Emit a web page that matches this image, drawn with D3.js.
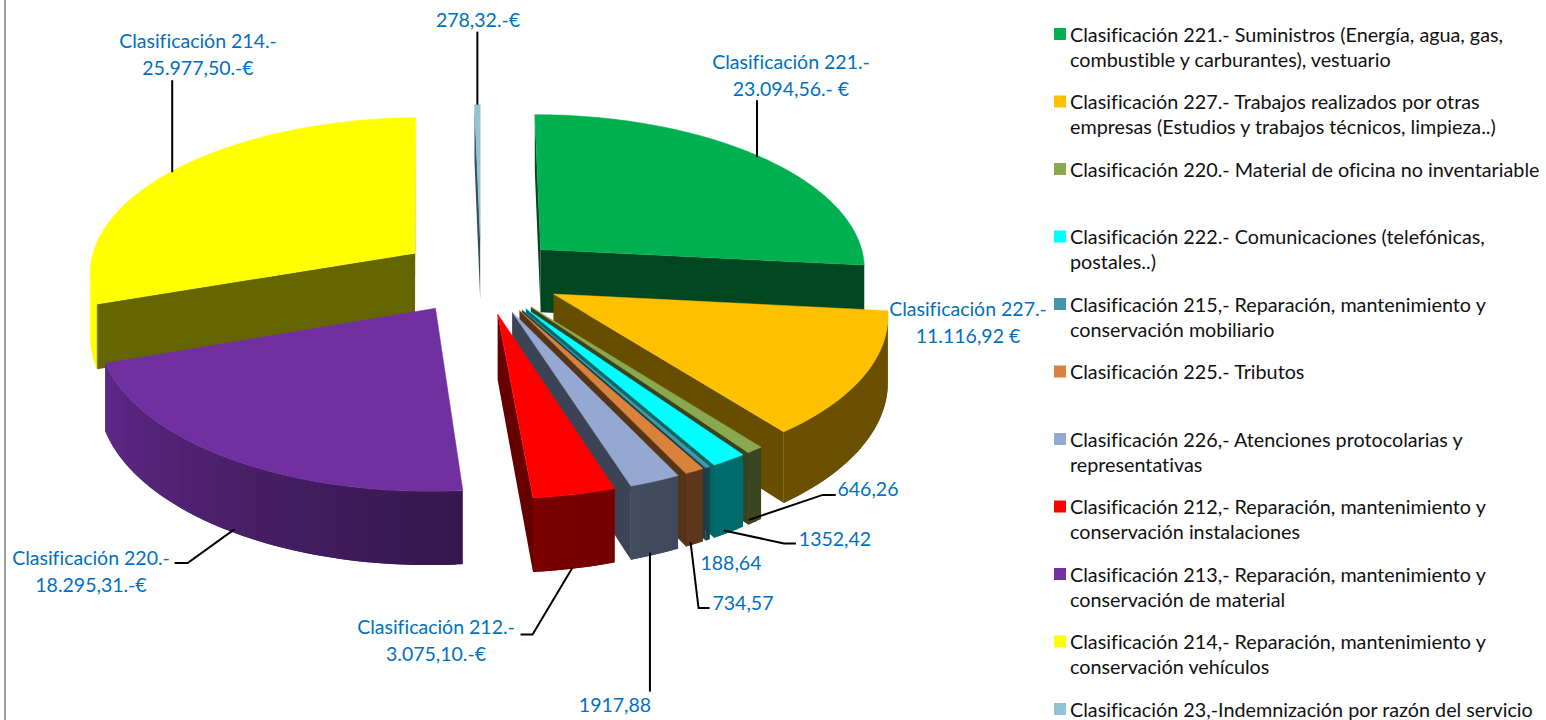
<!DOCTYPE html>
<html>
<head>
<meta charset="utf-8">
<script src="https://cdn.jsdelivr.net/npm/d3@7"></script>
<style>
  html, body { margin: 0; padding: 0; background: #fff; }
  svg { display: block; font-family: Lato, sans-serif; font-variant-ligatures: none; }
</style>
</head>
<body>
<div class="canvas"></div>
<script>
// chart data
const codes = ['221', '227', '220', '222', '215', '225', '226', '212', '213', '214', '23'];
const values = [23094.56, 11116.92, 646.26, 1352.42, 188.64, 734.57, 1917.88, 3075.10, 18295.31, 25977.50, 278.32];
const colors = ['#00b050', '#ffc000', '#8aa84f', '#00ffff', '#4398a8', '#d8823c', '#95a8d2', '#ff0000', '#7030a0', '#ffff00', '#92c4d6'];

const legendLines = [
    ['Clasificación 221.- Suministros (Energía, agua, gas,', 'combustible y carburantes), vestuario'],
    ['Clasificación 227.- Trabajos realizados por otras', 'empresas (Estudios y trabajos técnicos, limpieza..)'],
    ['Clasificación 220.- Material de oficina no inventariable'],
    ['Clasificación 222.- Comunicaciones (telefónicas,', 'postales..)'],
    ['Clasificación 215,- Reparación, mantenimiento y', 'conservación mobiliario'],
    ['Clasificación 225.- Tributos'],
    ['Clasificación 226,- Atenciones protocolarias y', 'representativas'],
    ['Clasificación 212,- Reparación, mantenimiento y', 'conservación instalaciones'],
    ['Clasificación 213,- Reparación, mantenimiento y', 'conservación de material'],
    ['Clasificación 214,- Reparación, mantenimiento y', 'conservación vehículos'],
    ['Clasificación 23,-Indemnización por razón del servicio']
];

const labelLines = [
    ['Clasificación 221.-', '23.094,56.- €'],
    ['Clasificación 227.-', '11.116,92 €'],
    ['646,26'],
    ['1352,42'],
    ['188,64'],
    ['734,57'],
    ['1917,88'],
    ['Clasificación 212.-', '3.075,10.-€'],
    ['Clasificación 220.-', '18.295,31.-€'],
    ['Clasificación 214.-', '25.977,50.-€'],
    ['278,32.-€']
];

// label layout, same order as the slices: text centre, first baseline
const labelPos = [[791, 69], [968, 316], [868, 496], [835, 546], [731, 570], [743, 610], [615, 712], [436, 634], [91, 565], [198, 48], [478, 27]];
// leader points, relative to the middle of the slice's rim
const leaderBends = [
    [[-2, 1], [-2, -56]],
    null,
    [[-6, -2], [68, -27], [81, -27]],
    [[-5, -2], [55, 11], [67, 11]],
    null,
    [[-4, -2], [4, 64], [15, 64]],
    [[-5, -2], [-5, 137]],
    [[-2, -1], [-42, 66], [-54, 66]],
    [[5, -2], [-42, 32], [-55, 32]],
    [[2, 0], [2, -92]],
    [[0, 0], [0, -73]]
];

const width = 1546;
const height = 720;
const svg = d3.select('.canvas').append('svg').attr('width', width).attr('height', height);

// left border of the original picture
svg.append('rect').attr('x', 4).attr('y', 0).attr('width', 2).attr('height', height).attr('fill', '#a0a0a0');

// 3D projection: ground plane unit circle -> screen, with a little perspective
const xScale = d3.scaleLinear().domain([-1, 1]).range([481 - 327, 481 + 327]);
const yScale = d3.scaleLinear().domain([-1, 1]).range([275 - 155, 275 + 155]);
const perspective = 0.11;
const depth = 64;      // height of the pie on screen
const explode = 0.25;  // how far the slices are pulled out

const project = (u, v, z = 0) => {
    const s = 1 / (1 - perspective * v);
    return [xScale(u * s), yScale(v * s) + z * depth * s];
};

// light on the round outer wall, by angle in degrees
const wallLight = d3.scaleLinear().domain([0, 150, 180, 251, 252, 360]).range([0.4, 0.42, 0.5, 0.85, 1, 1]);

const shade = (color, k) => {
    const c = d3.rgb(color);
    return d3.rgb(c.r * k, c.g * k, c.b * k).formatHex();
};

const pie = d3.pie().sort(null).value(d => d);
const line = d3.line();

const slices = pie(values).map((d, i) => {
    const mid = (d.startAngle + d.endAngle) / 2;
    const ou = explode * Math.sin(mid);
    const ov = -explode * Math.cos(mid);
    const n = Math.max(2, Math.ceil((d.endAngle - d.startAngle) * 180 / Math.PI));
    const angles = d3.range(n + 1).map(k => d.startAngle + (d.endAngle - d.startAngle) * k / n);
    const ground = a => [ou + Math.sin(a), ov - Math.cos(a)];
    return { i, mid, apex: [ou, ov], angles, ground, color: colors[i] };
});

// painter's order, back slices first
const chart = svg.append('g').attr('class', 'pie');
slices.slice().sort((a, b) => Math.cos(b.mid) - Math.cos(a.mid)).forEach(sl => {
    const g = chart.append('g');
    const rim = sl.angles.map(sl.ground);
    const loop = [sl.apex, ...rim];

    // walls: only those that face the viewer
    const wall = (p, q, fill, over = q) => {
        const front = [project(p[0], p[1]), project(q[0], q[1]), project(q[0], q[1], 1), project(p[0], p[1], 1)];
        if (d3.polygonArea(front) > 0) {
            // "over" runs the piece on under the next one, so no seams show
            const poly = [project(p[0], p[1]), project(over[0], over[1]), project(over[0], over[1], 1), project(p[0], p[1], 1)];
            g.append('path').attr('d', line(poly) + 'Z').attr('fill', fill);
        }
    };
    wall(sl.apex, rim[0], shade(sl.color, 0.4));
    wall(rim[rim.length - 1], sl.apex, shade(sl.color, 0.4));
    d3.pairs(rim).forEach(([p, q], k) => {
        const deg = (sl.angles[k] + sl.angles[k + 1]) / 2 * 180 / Math.PI;
        wall(p, q, shade(sl.color, wallLight(deg)), rim[k + 2] || q);
    });

    // top face
    g.append('path')
        .attr('d', line(loop.map(p => project(p[0], p[1]))) + 'Z')
        .attr('fill', sl.color)
        .attr('stroke', sl.color)
        .attr('stroke-width', 0.5);
});

// leader lines
const leaders = svg.append('g').attr('class', 'leaders');
slices.forEach(sl => {
    const bends = leaderBends[sl.i];
    if (!bends) return;
    const p = sl.ground(sl.mid);
    const start = project(p[0], p[1], Math.cos(sl.mid) < 0 ? 1 : 0);
    leaders.append('path')
        .attr('d', line(bends.map(b => [start[0] + b[0], start[1] + b[1]])))
        .attr('fill', 'none')
        .attr('stroke', '#000')
        .attr('stroke-width', 2);
});

// data labels
svg.append('g').attr('class', 'labels')
    .selectAll('text')
    .data(labelLines)
    .join('text')
    .attr('text-anchor', 'middle')
    .attr('fill', '#0070c0')
    .attr('font-size', 19.5)
    .each(function (lines, i) {
        d3.select(this).selectAll('tspan')
            .data(lines)
            .join('tspan')
            .attr('x', labelPos[i][0])
            .attr('y', (d, k) => labelPos[i][1] + k * 26.5)
            .text(d => d);
    });

// legend: rows are evenly spaced
const legendY = d3.scalePoint().domain(codes).range([34, 709]);
const legend = svg.append('g').attr('class', 'legend')
    .selectAll('g')
    .data(codes)
    .join('g')
    .attr('transform', d => `translate(1054,${legendY(d)})`);

legend.append('rect')
    .attr('x', 0)
    .attr('y', -6)
    .attr('width', 12)
    .attr('height', 12)
    .attr('fill', (d, i) => colors[i]);

legend.append('text')
    .attr('fill', '#111')
    .attr('font-size', 19.75)
    .each(function (d, i) {
        d3.select(this).selectAll('tspan')
            .data(legendLines[i])
            .join('tspan')
            .attr('x', 16)
            .attr('y', (t, k) => 7.5 + k * 25)
            .text(t => t);
    });
</script>
</body>
</html>
